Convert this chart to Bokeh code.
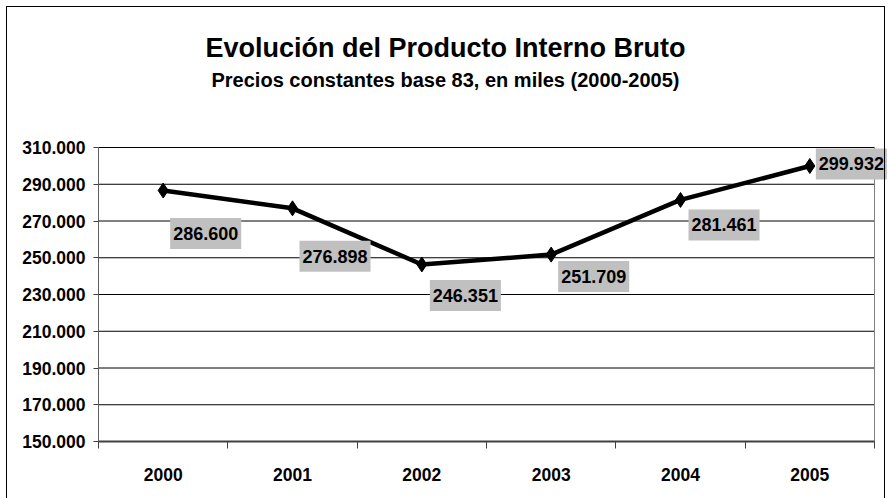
from bokeh.plotting import figure
from bokeh.models import ColumnDataSource, Label, FixedTicker, Range1d, InlineStyleSheet
from bokeh.embed import file_html
from bokeh.resources import INLINE

# ---- data ----
years = ["2000", "2001", "2002", "2003", "2004", "2005"]
pib = [286600, 276898, 246351, 251709, 281461, 299932]
pib_labels = ["286.600", "276.898", "246.351", "251.709", "281.461", "299.932"]
y_ticks = [150000, 170000, 190000, 210000, 230000, 250000, 270000, 290000, 310000]
y_tick_labels = ["150.000", "170.000", "190.000", "210.000", "230.000",
                 "250.000", "270.000", "290.000", "310.000"]

# label placement (screen px offsets, style only)
label_dx = [7, 7, 8, 7, 8, 6]
label_dy = [-43, -48, -31, -22, -25, 2]

FONT = "Liberation Sans"

# ---- layout (pixels) ----
W, H = 889, 498
FRAME_LEFT, FRAME_BOTTOM = 98, 441
PLOT_W, PLOT_H = 776, 294          # axis extent in pixels
FRAME_W = W - FRAME_LEFT
FRAME_H = FRAME_BOTTOM

n = len(years)
xs = [i + 0.5 for i in range(n)]
y0, y1 = y_ticks[0], y_ticks[-1]
x_end = n * FRAME_W / PLOT_W
y_end = y0 + (y1 - y0) * FRAME_H / PLOT_H

p = figure(width=W, height=H, output_backend="svg", toolbar_location=None,
           x_range=Range1d(0, x_end), y_range=Range1d(y0, y_end),
           min_border_left=FRAME_LEFT, min_border_right=0, min_border_top=0,
           min_border_bottom=H - FRAME_BOTTOM)
p.stylesheets = [InlineStyleSheet(css=(
    ":host { position: relative; }"
    ":host::after { content: ''; position: absolute; left: 6px; top: 6px; right: 4px;"
    " bottom: 0; border: 1px solid black; border-bottom: none; pointer-events: none; }"))]
p.background_fill_color = "white"
p.border_fill_color = "white"
p.outline_line_color = None

# x axis: labels at category centres, ticks at category boundaries
xa = p.xaxis[0]
xa.bounds = (0, n)
xa.ticker = FixedTicker(ticks=xs, minor_ticks=list(range(n + 1)))
xa.major_label_overrides = {x: y for x, y in zip(xs, years)}
xa.major_tick_line_color = None
xa.major_tick_out = 0
xa.major_tick_in = 0
xa.minor_tick_out = 7
xa.minor_tick_in = 0
xa.minor_tick_line_color = "#404040"
xa.minor_tick_line_width = 1
xa.axis_line_color = "#404040"
xa.axis_line_width = 2
xa.major_label_text_font = FONT
xa.major_label_text_font_style = "bold"
xa.major_label_text_font_size = "17.5px"
xa.major_label_text_color = "black"
xa.major_label_standoff = 19

ya = p.yaxis[0]
ya.bounds = (y0, y1)
ya.ticker = FixedTicker(ticks=y_ticks, minor_ticks=[])
ya.major_label_overrides = {t: l for t, l in zip(y_ticks, y_tick_labels)}
ya.major_tick_out = 5
ya.major_tick_in = 0
ya.major_tick_line_color = "#404040"
ya.minor_tick_line_color = None
ya.axis_line_color = "#606060"
ya.axis_line_width = 1
ya.major_label_text_font = FONT
ya.major_label_text_font_style = "bold"
ya.major_label_text_font_size = "17.5px"
ya.major_label_text_color = "black"
ya.major_label_standoff = 8

p.xgrid.visible = False
p.ygrid.visible = False

# horizontal gridlines limited to the plot area, and right edge of plot area
p.segment(x0=[0] * len(y_ticks), y0=y_ticks, x1=[n] * len(y_ticks), y1=y_ticks,
          line_color="black", line_width=1)
p.segment(x0=[n], y0=[y0], x1=[n], y1=[y1], line_color="#808080", line_width=1)

src = ColumnDataSource(dict(x=xs, y=pib))
p.line("x", "y", source=src, line_color="black", line_width=4.5, line_join="round")
p.scatter("x", "y", source=src, marker="diamond", size=15, color="black")

for xv, yv, txt, dx, dy in zip(xs, pib, pib_labels, label_dx, label_dy):
    p.add_layout(Label(x=xv, y=yv, text=txt, x_offset=dx, y_offset=dy,
                       text_align="left", text_baseline="middle",
                       text_font=FONT, text_font_style="bold",
                       text_font_size="18px", text_color="black",
                       background_fill_color="#C0C0C0",
                       padding=(3, 9)))

title = Label(x=445 - FRAME_LEFT, y=FRAME_BOTTOM - 56 + 9, x_units="screen", y_units="screen",
              text="Evolución del Producto Interno Bruto",
              text_align="center", text_baseline="alphabetic",
              text_font=FONT, text_font_style="bold", text_font_size="27px",
              text_color="black")
subtitle = Label(x=445 - FRAME_LEFT, y=FRAME_BOTTOM - 87 + 8, x_units="screen", y_units="screen",
                 text="Precios constantes base 83, en miles (2000-2005)",
                 text_align="center", text_baseline="alphabetic",
                 text_font=FONT, text_font_style="bold", text_font_size="20px",
                 text_color="black")
p.add_layout(title)
p.add_layout(subtitle)

open("out.html", "w").write(file_html(p, INLINE))
